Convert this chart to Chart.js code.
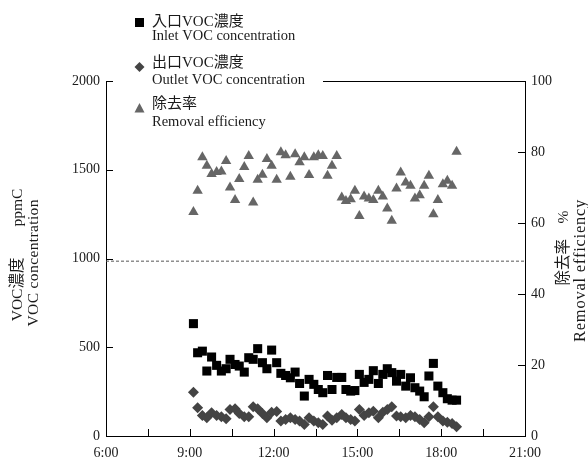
<!DOCTYPE html>
<html>
<head>
<meta charset="utf-8">
<script src="https://cdn.jsdelivr.net/npm/chart.js@4.4.1/dist/chart.umd.min.js"></script>
<style>
html, body { margin: 0; padding: 0; background: #fff; }
</style>
</head>
<body>
<canvas id="myChart" width="588" height="463"></canvas>
<script>
// measurement times (hours of day)
const times = [9.13, 9.28, 9.45, 9.61, 9.78, 9.96, 10.13, 10.30, 10.44, 10.62,
    10.77, 10.95, 11.11, 11.27, 11.43, 11.60, 11.76, 11.93, 12.11, 12.26,
    12.43, 12.60, 12.77, 12.93, 13.10, 13.27, 13.44, 13.60, 13.76, 13.93,
    14.09, 14.26, 14.44, 14.59, 14.76, 14.91, 15.07, 15.24, 15.41, 15.57,
    15.75, 15.91, 16.07, 16.23, 16.40, 16.55, 16.73, 16.90, 17.06, 17.23,
    17.39, 17.56, 17.72, 17.88, 18.06, 18.22, 18.39, 18.55];

// inlet VOC concentration (ppmC)
const inletVoc = [633, 469, 478, 366, 445, 398, 366, 379, 432, 403,
    394, 360, 441, 432, 492, 413, 379, 484, 413, 353,
    341, 328, 360, 296, 225, 319, 291, 262, 244, 341,
    262, 330, 330, 262, 253, 256, 347, 302, 319, 368,
    296, 347, 379, 357, 309, 347, 281, 328, 272, 253,
    221, 338, 409, 281, 244, 210, 202, 202];

// outlet VOC concentration (ppmC)
const outletVoc = [247, 159, 116, 103, 131, 116, 108, 97, 150, 153,
    127, 108, 108, 165, 153, 127, 103, 134, 138, 84,
    93, 103, 93, 84, 65, 103, 84, 74, 65, 112,
    89, 103, 121, 103, 93, 84, 150, 116, 131, 140,
    103, 134, 150, 165, 112, 108, 103, 116, 108, 93,
    74, 108, 165, 108, 84, 78, 71, 52];

// removal efficiency (%)
const removalEff = [63.1, 69.1, 78.5, 76.1, 73.8, 74.4, 74.5, 77.5, 70.0, 66.5,
    72.4, 75.8, 78.9, 65.8, 72.2, 73.6, 78.0, 76.1, 72.2, 79.9,
    79.1, 73.0, 79.4, 77.1, 78.5, 73.5, 78.5, 79.1, 78.9, 73.3,
    76.1, 78.9, 67.2, 66.2, 66.7, 69.1, 62.0, 67.5, 66.9, 66.5,
    69.1, 67.5, 64.1, 60.6, 69.7, 74.2, 71.4, 70.5, 66.9, 67.8,
    70.5, 73.3, 62.5, 66.5, 70.9, 71.9, 70.5, 80.1];

// dashed reference level on the left axis
const refLevel = 985;
const xTickHours = [6, 7.5, 9, 10.5, 12, 13.5, 15, 16.5, 18, 19.5, 21];
const leftTicks = [0, 500, 1000, 1500, 2000];
const rightTicks = [0, 20, 40, 60, 80, 100];

const serif = '"Liberation Serif", "Noto Sans CJK JP", serif';
const textColor = '#1a1a1a';

function toPoints(values) {
    return values.map((v, i) => ({ x: times[i], y: v }));
}

// rotated text, optionally spread out to a given length
function verticalText(ctx, txt, x, y, size, length) {
    ctx.save();
    ctx.font = size + 'px ' + serif;
    const natural = ctx.measureText(txt).width;
    const n = [...txt].length;
    const spacing = length && n > 1 ? Math.max(0, (length - natural) / (n - 1)) : 0;
    const total = natural + spacing * (n - 1);
    ctx.translate(x, y);
    ctx.rotate(-Math.PI / 2);
    ctx.textAlign = 'left';
    ctx.textBaseline = 'middle';
    let pos = -total / 2;
    for (const ch of txt) {
        ctx.fillText(ch, pos, 0);
        pos += ctx.measureText(ch).width + spacing;
    }
    ctx.restore();
}

// tick marks point inward, titles and legend are drawn by hand
const decorPlugin = {
    id: 'decor',
    afterDraw(chart) {
        const ctx = chart.ctx;
        const area = chart.chartArea;
        const sx = chart.scales.x;
        const sy = chart.scales.y;
        const sy2 = chart.scales.y2;

        ctx.save();
        ctx.strokeStyle = '#000';
        ctx.lineWidth = 1;
        ctx.beginPath();
        xTickHours.forEach(h => {
            const px = Math.round(sx.getPixelForValue(h)) + 0.5;
            ctx.moveTo(px, area.bottom);
            ctx.lineTo(px, area.bottom - 7);
        });
        leftTicks.forEach(v => {
            const py = Math.round(sy.getPixelForValue(v)) + 0.5;
            ctx.moveTo(area.left, py);
            ctx.lineTo(area.left + 7, py);
        });
        rightTicks.forEach(v => {
            const py = Math.round(sy2.getPixelForValue(v)) + 0.5;
            ctx.moveTo(area.right, py);
            ctx.lineTo(area.right - 7, py);
        });
        // top frame, only right of the legend
        ctx.moveTo(323, Math.round(area.top) + 0.5);
        ctx.lineTo(area.right, Math.round(area.top) + 0.5);
        ctx.stroke();

        // axis titles
        ctx.fillStyle = textColor;
        verticalText(ctx, 'VOC濃度　　ppmC', 18, 255, 15.5);
        verticalText(ctx, 'VOC concentration', 34, 263, 15.5, 127);
        verticalText(ctx, '除去率　%', 564, 248, 15.5);
        verticalText(ctx, 'Removal efficiency', 581, 271, 16.5, 142);

        // legend
        ctx.fillStyle = '#000';
        ctx.fillRect(135, 18, 9, 9);
        ctx.fillStyle = '#444';
        ctx.beginPath();
        ctx.moveTo(139.5, 62); ctx.lineTo(144.5, 67); ctx.lineTo(139.5, 72); ctx.lineTo(134.5, 67);
        ctx.closePath();
        ctx.fill();
        ctx.fillStyle = '#666';
        ctx.beginPath();
        ctx.moveTo(139.5, 103); ctx.lineTo(144.5, 112.5); ctx.lineTo(134.5, 112.5);
        ctx.closePath();
        ctx.fill();

        ctx.fillStyle = textColor;
        ctx.textAlign = 'left';
        ctx.textBaseline = 'middle';
        ctx.font = '15px ' + serif;
        ctx.fillText('入口VOC濃度', 152, 22);
        ctx.fillText('出口VOC濃度', 152, 63);
        ctx.fillText('除去率', 152, 104);
        ctx.font = '14.5px ' + serif;
        ctx.fillText('Inlet VOC concentration', 152, 36);
        ctx.fillText('Outlet VOC concentration', 152, 80);
        ctx.fillText('Removal efficiency', 152, 122);
        ctx.restore();
    }
};

const tickFont = { family: serif, size: 14 };

const ctx = document.getElementById('myChart').getContext('2d');
const chart = new Chart(ctx, {
    type: 'scatter',
    data: {
        datasets: [
            {
                type: 'line',
                data: [{ x: 6, y: refLevel }, { x: 21, y: refLevel }],
                borderColor: '#555',
                borderWidth: 1,
                borderDash: [3, 2],
                pointRadius: 0,
                yAxisID: 'y'
            },
            {
                label: 'Outlet VOC concentration',
                data: toPoints(outletVoc),
                pointStyle: 'rectRot',
                pointRadius: 5.5,
                backgroundColor: '#444',
                borderWidth: 0,
                yAxisID: 'y'
            },
            {
                label: 'Inlet VOC concentration',
                data: toPoints(inletVoc),
                pointStyle: 'rect',
                pointRadius: 6.4,
                backgroundColor: '#000',
                borderWidth: 0,
                yAxisID: 'y'
            },
            {
                label: 'Removal efficiency',
                data: toPoints(removalEff),
                pointStyle: 'triangle',
                pointRadius: 6,
                backgroundColor: '#666',
                borderWidth: 0,
                yAxisID: 'y2'
            }
        ]
    },
    options: {
        responsive: false,
        animation: false,
        layout: { padding: { top: 81, left: 0, right: 0, bottom: 0 } },
        plugins: {
            legend: { display: false },
            tooltip: { enabled: false }
        },
        scales: {
            x: {
                type: 'linear',
                min: 6,
                max: 21,
                afterBuildTicks: scale => {
                    scale.ticks = xTickHours.map(v => ({ value: v }));
                },
                ticks: {
                    autoSkip: false,
                    maxRotation: 0,
                    padding: 9,
                    color: textColor,
                    font: tickFont,
                    callback: v => (v % 3 === 0 ? v + ':00' : '')
                },
                grid: { display: false, drawTicks: false },
                border: { display: true, color: '#000', width: 1 },
                afterFit: scale => { scale.height = 27; }
            },
            y: {
                position: 'left',
                min: 0,
                max: 2000,
                ticks: { stepSize: 500, padding: 6, color: textColor, font: tickFont, callback: v => String(v) },
                grid: { display: false, drawTicks: false },
                border: { display: true, color: '#000', width: 1 },
                afterFit: scale => { scale.width = 106; }
            },
            y2: {
                position: 'right',
                min: 0,
                max: 100,
                ticks: { stepSize: 20, padding: 6, color: textColor, font: tickFont, callback: v => String(v) },
                grid: { display: false, drawTicks: false },
                border: { display: true, color: '#000', width: 1 },
                afterFit: scale => { scale.width = 63; }
            }
        }
    },
    plugins: [decorPlugin]
});
</script>
</body>
</html>
